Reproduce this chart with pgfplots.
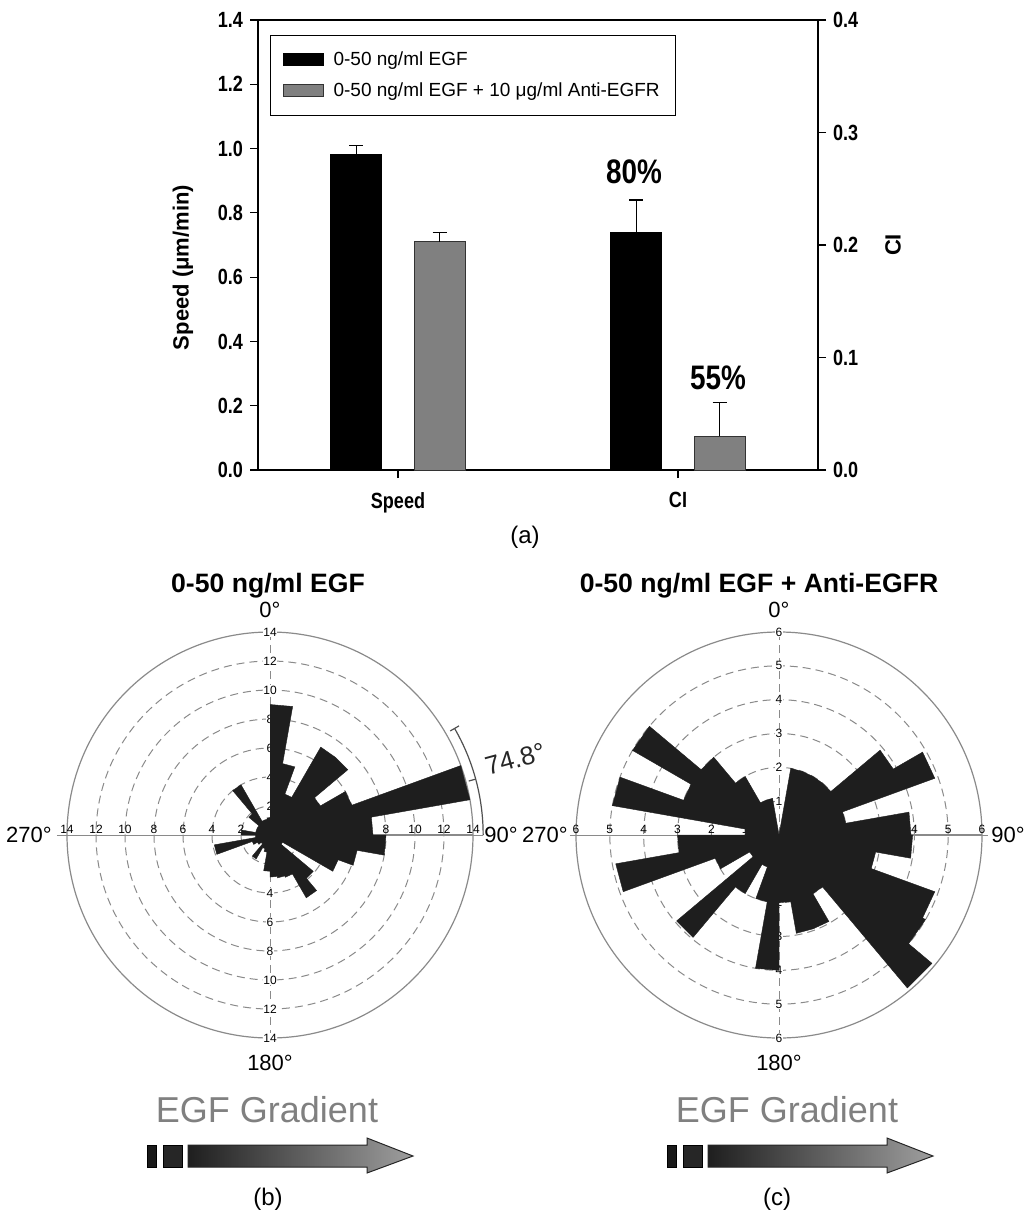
\documentclass[border=0pt]{standalone}
\usepackage{fontspec}
\setmainfont{Liberation Sans}
\newfontfamily\condfont[FakeStretch=0.82]{Liberation Sans}
\usepackage{pgfplots}
\usepackage{pgfplotstable}
\pgfplotsset{compat=1.18}
\usepgfplotslibrary{polar}

\definecolor{bargray}{HTML}{808080}
\definecolor{rose}{HTML}{1E1E1E}
\definecolor{ringgray}{HTML}{8A8A8A}
\definecolor{labgray}{HTML}{808080}
\definecolor{annot}{HTML}{505050}
\newcommand\ringfont{\fontsize{6}{7}\selectfont}

% rose diagram of 0-50 ng/ml EGF: each 10-degree bin (compass angle) given by its start and end
\pgfplotstableread{
a r
0 9.0
10 9.0
10 5.0
20 5.0
20 3.0
30 3.0
30 7.0
40 7.0
40 7.0
50 7.0
50 4.0
60 4.0
60 6.0
70 6.0
70 14.0
80 14.0
80 7.1
90 7.1
90 8.0
100 8.0
100 6.1
110 6.1
110 5.0
120 5.0
120 1.0
130 1.0
130 3.9
140 3.9
140 5.0
150 5.0
150 3.1
160 3.1
160 3.0
170 3.0
170 2.9
180 2.9
180 2.5
190 2.5
190 1.2
200 1.2
200 1.0
210 1.0
210 1.9
220 1.9
220 0.8
230 0.8
230 1.0
240 1.0
240 1.3
250 1.3
250 3.9
260 3.9
260 1.0
270 1.0
270 2.0
280 2.0
280 1.0
290 1.0
290 1.0
300 1.0
300 1.0
310 1.0
310 1.9
320 1.9
320 4.0
330 4.0
330 1.1
340 1.1
340 1.1
350 1.1
350 1.2
360 1.2
}\roseEGF

% rose diagram of 0-50 ng/ml EGF + Anti-EGFR
\pgfplotstableread{
a r
0 0
10 0
10 2.0
20 2.0
20 2.0
30 2.0
30 2.0
40 2.0
40 2.0
50 2.0
50 3.9
60 3.9
60 4.9
70 4.9
70 2.0
80 2.0
80 3.9
90 3.9
90 3.95
100 3.95
100 2.9
110 2.9
110 4.9
120 4.9
120 5.0
130 5.0
130 5.9
140 5.9
140 2.0
150 2.0
150 2.95
160 2.95
160 2.95
170 2.95
170 2.0
180 2.0
180 4.0
190 4.0
190 2.0
200 2.0
200 1.0
210 1.0
210 2.0
220 2.0
220 3.95
230 3.95
230 1.0
240 1.0
240 2.0
250 2.0
250 4.9
260 4.9
260 3.0
270 3.0
270 1.0
280 1.0
280 5.0
290 5.0
290 3.0
300 3.0
300 5.0
310 5.0
310 3.0
320 3.0
320 2.0
330 2.0
330 1.1
340 1.1
340 1.1
350 1.1
350 0
360 0
}\roseAnti

\pgfplotsset{
  rosebase/.style={
    anchor=center, width=203pt, height=203pt, scale only axis,
    xmin=0, xmax=360, ymin=0,
    xtick={0,90,180,270},
    xticklabels={}, yticklabels={},
    major tick length=0pt,
    grid=major,
    major grid style={ringgray, line width=0.5pt, dash pattern=on 4pt off 2.5pt},
    axis line style={ringgray, line width=0.6pt},
    clip=false,
  },
  barbase/.style={
    at={(129pt,-235pt)}, anchor=south west,
    width=280pt, height=225pt, scale only axis,
    xmin=-0.5, xmax=1.5,
    tick align=outside, major tick length=4pt,
    every tick/.style={black, line width=0.6pt},
    axis line style={line width=0.6pt},
    /pgf/number format/assume math mode=true,
    yticklabel={\pgfmathprintnumber[fixed,fixed zerofill,precision=1]{\tick}},
    ticklabel style={font=\condfont\bfseries\fontsize{11}{13}\selectfont},
    clip=false,
  },
  errstyle/.style={
    error bars/.cd, y dir=plus, y explicit,
    error bar style={black, line width=0.6pt},
    error mark options={black, rotate=90, mark size=3.5pt, line width=0.6pt},
  },
}

\begin{document}
\begin{tikzpicture}
\path[use as bounding box] (0pt,0pt) rectangle (512pt,-609.5pt);

% ---------- (a) bar chart, left axis: speed ----------
% categories: Speed at x=0, CI at x=1; the two conditions sit at -0.149 and +0.149 from them
\begin{axis}[barbase,
  ymin=0, ymax=1.4,
  xtick={0,1}, xticklabels={Speed,CI},
  xticklabel style={yshift=-3.5pt},
  ytick={0,0.2,0.4,0.6,0.8,1.0,1.2,1.4},
  xtick pos=left, ytick pos=left,
  ylabel={Speed (μm/min)},
  ylabel style={font=\bfseries\fontsize{11}{13}\selectfont, at={(axis description cs:-0.134,0.45)}, anchor=center},
  legend style={at={(axis description cs:0.0214,0.9667)}, anchor=north west, draw=black, line width=0.6pt,
    font=\fontsize{9.5}{11}\selectfont, inner xsep=6pt, inner ysep=6pt, row sep=3pt, column sep=3pt},
  legend cell align=left,
]
\addplot[ybar, bar width=25.5pt, bar shift=0pt, fill=black, draw=black, line width=0.5pt,
  legend image code/.code={\draw[fill=black,draw=black,line width=0.5pt] (0pt,-3pt) rectangle (20pt,3pt);},
  errstyle]
  coordinates {(-0.149,0.98) +- (0,0.03)};
\addlegendentry{0-50 ng/ml EGF}
\addplot[ybar, bar width=25.5pt, bar shift=0pt, fill=bargray, draw=black!80, line width=0.5pt,
  legend image code/.code={\draw[fill=bargray,draw=black!80,line width=0.5pt] (0pt,-3pt) rectangle (20pt,3pt);},
  errstyle]
  coordinates {(0.149,0.71) +- (0,0.03)};
\addlegendentry{0-50 ng/ml EGF + 10 μg/ml Anti-EGFR}
\node[font=\condfont\bfseries\fontsize{17}{19}\selectfont] at (axis cs:0.843,0.927) {80\%};
\node[font=\condfont\bfseries\fontsize{17}{19}\selectfont] at (axis cs:1.143,0.286) {55\%};
\end{axis}

% ---------- (a) right axis: CI ----------
\begin{axis}[barbase,
  ymin=0, ymax=0.4,
  axis x line=none, axis y line*=right,
  ytick={0,0.1,0.2,0.3,0.4},
  ylabel={CI},
  ylabel style={font=\bfseries\fontsize{11}{13}\selectfont, at={(axis description cs:1.134,0.5)}, anchor=center, rotate=0},
]
\addplot[ybar, bar width=25.5pt, bar shift=0pt, fill=black, draw=black, line width=0.5pt, errstyle]
  coordinates {(0.851,0.211) +- (0,0.029)};
\addplot[ybar, bar width=25.5pt, bar shift=0pt, fill=bargray, draw=black!80, line width=0.5pt, errstyle]
  coordinates {(1.149,0.030) +- (0,0.030)};
\end{axis}

% ---------- (b) rose diagram ----------
\begin{polaraxis}[rosebase, at={(135pt,-417.5pt)}, ymax=14, ytick={2,4,6,8,10,12}]
\draw[ringgray, line width=0.5pt] (axis cs:180,14.7) -- (axis cs:0,14.7);
\pgfplotsinvokeforeach{2,4,6,8,10,12,14}{
  \node[font=\ringfont, fill=white, inner sep=0.3pt] at (axis cs:90,#1) {#1};
  \node[font=\ringfont, fill=white, inner sep=0.3pt] at (axis cs:270,#1) {#1};
  \node[font=\ringfont, anchor=south, inner sep=0.6pt] at (axis cs:0,#1) {#1};
  \node[font=\ringfont, anchor=south, inner sep=0.6pt] at (axis cs:180,#1) {#1};
}
\addplot[fill=rose, draw=rose, line width=0.2pt, mark=none] table[x expr=90-\thisrow{a}, y=r] {\roseEGF};
\draw[annot, line width=0.6pt] (axis cs:30,14.7) arc[start angle=30, end angle=0, radius=106.6pt];
\draw[annot, line width=0.6pt] (axis cs:30,14.35) -- (axis cs:30,15.05);
\draw[annot, line width=0.6pt] (axis cs:15.2,14.7) -- (axis cs:15.2,14.2);
\node[font=\fontsize{13}{15}\selectfont, rotate=15.2, text=black!85] at (axis cs:17.2,17.7) {74.8°};
\end{polaraxis}

% ---------- (c) rose diagram ----------
\begin{polaraxis}[rosebase, at={(389.5pt,-417.5pt)}, ymax=6, ytick={1,2,3,4,5}]
\draw[ringgray, line width=0.5pt] (axis cs:180,6.18) -- (axis cs:0,6.18);
\pgfplotsinvokeforeach{1,2,3,4,5,6}{
  \node[font=\ringfont, fill=white, inner sep=0.3pt] at (axis cs:90,#1) {#1};
  \node[font=\ringfont, fill=white, inner sep=0.3pt] at (axis cs:270,#1) {#1};
  \node[font=\ringfont, anchor=south, inner sep=0.6pt] at (axis cs:0,#1) {#1};
  \node[font=\ringfont, anchor=south, inner sep=0.6pt] at (axis cs:180,#1) {#1};
}
\addplot[fill=rose, draw=rose, line width=0.2pt, mark=none] table[x expr=90-\thisrow{a}, y=r] {\roseAnti};
\end{polaraxis}

% ---------- texts and gradient arrows (pixel grid, y downward) ----------
\begin{scope}[x=0.5pt, y=-0.5pt]
\node[font=\fontsize{12}{14}\selectfont] at (525,537) {(a)};
\node[font=\bfseries\fontsize{13.3}{15}\selectfont, anchor=base] at (268,592) {0-50 ng/ml EGF};
\node[font=\bfseries\fontsize{13.3}{15}\selectfont, anchor=base] at (759,592) {0-50 ng/ml EGF + Anti-EGFR};
\begin{scope}[font=\fontsize{11}{13}\selectfont]
\node[inner sep=1pt] at (270,610) {0°};
\node at (270,1063) {180°};
\node[anchor=east, inner sep=1pt] at (54,835) {270°};
\node[anchor=west, inner sep=1pt] at (482,835) {90°};
\node[inner sep=1pt] at (779,610) {0°};
\node at (779,1063) {180°};
\node[anchor=east, inner sep=1pt] at (570,835) {270°};
\node[anchor=west, inner sep=1pt] at (989,835) {90°};
\end{scope}
\foreach \dx/\cx/\lab in {0/268/b, 520/777/c} {
  \begin{scope}[xshift=\dx*0.5pt]
    \node[font=\fontsize{18}{20}\selectfont, text=labgray, anchor=base] at (267,1122) {EGF Gradient};
    \filldraw[fill=black!90, draw=black, line width=0.4pt] (147,1145) rectangle (156,1167);
    \filldraw[fill=black!85, draw=black, line width=0.4pt] (163,1145) rectangle (182,1167);
    \shadedraw[left color=black!88, right color=black!38, draw=black!85, line width=0.5pt]
      (188,1145) -- (367,1145) -- (367,1138) -- (413,1156) -- (367,1173) -- (367,1167) -- (188,1167) -- cycle;
  \end{scope}
  \node[font=\fontsize{12}{14}\selectfont] at (\cx,1199) {(\lab)};
}
\end{scope}
\end{tikzpicture}
\end{document}
